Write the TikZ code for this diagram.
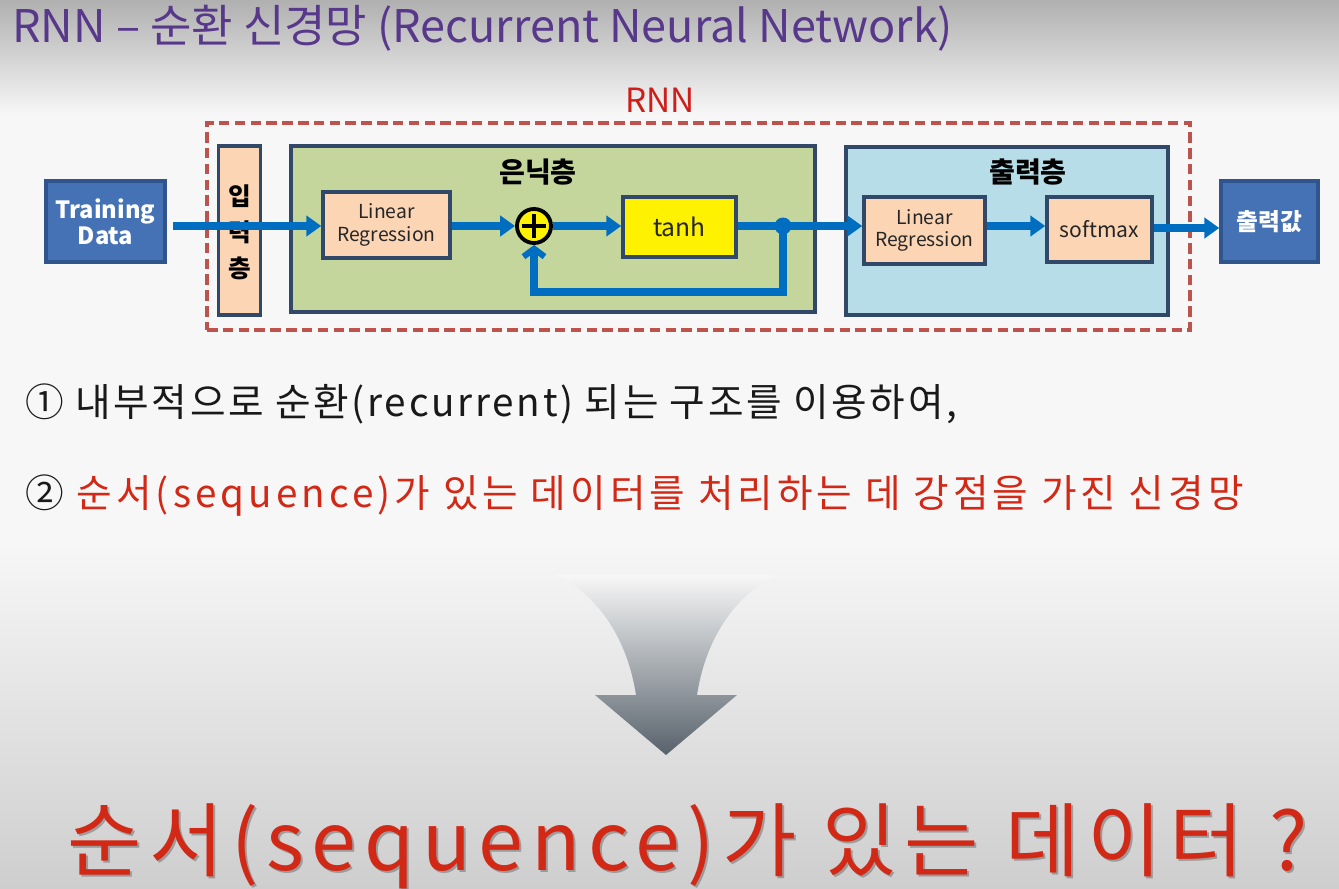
\documentclass[tikz,border=0pt]{standalone}
\usepackage{fontspec}
\setmainfont{Noto Sans CJK KR}
\usetikzlibrary{arrows.meta}

\definecolor{bgw}{RGB}{247,247,247}
\definecolor{bgtop}{RGB}{176,176,176}
\definecolor{bgbot}{RGB}{206,206,206}
\definecolor{titlepurple}{RGB}{88,56,138}
\definecolor{rnnred}{RGB}{205,30,25}
\definecolor{dashred}{RGB}{190,82,76}
\definecolor{boxblue}{RGB}{68,114,180}
\definecolor{boxblueline}{RGB}{48,84,140}
\definecolor{frame}{RGB}{50,72,105}
\definecolor{peach}{RGB}{252,213,181}
\definecolor{olive}{RGB}{196,214,156}
\definecolor{skyblue}{RGB}{183,222,232}
\definecolor{flowblue}{RGB}{0,110,192}
\definecolor{textred}{RGB}{210,40,22}
\definecolor{arrowdark}{RGB}{88,98,108}
\definecolor{arrowmid}{RGB}{176,184,190}

\tikzset{
  sz/.style 2 args={minimum width=#1*0.02cm, minimum height=#2*0.02cm},
  blockbox/.style={draw=boxblueline, line width=2pt, fill=boxblue,
    text=white, font=\bfseries\fontsize{13.5}{15}\selectfont, align=center,
    inner sep=0pt},
  layerbox/.style={draw=frame, line width=2pt, inner sep=0pt},
  unitbox/.style={draw=frame, line width=2pt, fill=peach, inner sep=0pt,
    align=center, text=black!85, font=\fontsize{11}{13}\selectfont},
  flow/.style={draw=flowblue, line width=4pt,
    -{Triangle[length=8.5pt,width=11.5pt]}},
  feedback/.style={draw=flowblue, line width=4pt,
    -{Straight Barb[length=4.5pt,width=12pt,line width=3.5pt]}},
  layertitle/.style={font=\bfseries\fontsize{16}{18}\selectfont, text=black},
  inlabel/.style={font=\bfseries\fontsize{14}{16}\selectfont, inner sep=0pt},
}

\begin{document}
\begin{tikzpicture}[x=0.02cm, y=-0.02cm]
  % page background: grey fade at top and bottom
  \useasboundingbox (0,0) rectangle (1339,889);
  \fill[bgw] (0,0) rectangle (1339,889);
  \shade[top color=bgtop, bottom color=bgw] (0,0) rectangle (1339,115);
  \shade[top color=bgw, bottom color=bgbot] (0,540) rectangle (1339,889);

  % heading
  \node[anchor=base west, text=titlepurple, inner sep=0pt,
        font=\fontsize{25.6}{28}\selectfont] (title) at (12,42)
        {RNN – 순환 신경망 (Recurrent Neural Network)};

  % RNN frame
  \node[draw=dashred, line width=2.2pt, dash pattern=on 6pt off 3pt,
        sz={983}{207}, inner sep=0pt] (rnn) at (698.5,226.5) {};
  \node[anchor=base, text=rnnred, inner sep=0pt,
        font=\fontsize{19}{21}\selectfont] (rnnlabel) at (660,112) {RNN};

  % input and output blocks
  \node[blockbox, sz={119}{81}] (train) at (105.5,221.5) {Training\\Data};
  \node[blockbox, sz={97}{81}] (outval) at (1269.5,221.5) {출력값};

  % input layer
  \node[layerbox, fill=peach, sz={42}{169}] (inlayer) at (239.5,230.5) {};
  \node[inlabel] (in1) at (239.5,196) {입};
  \node[inlabel] (in2) at (239.5,232) {력};
  \node[inlabel] (in3) at (239.5,268) {층};

  % hidden layer
  \node[layerbox, fill=olive, sz={524}{166}] (hidden) at (553,229) {};
  \node[layertitle] (hiddentitle) at (538,172) {은닉층};
  \node[unitbox, sz={127}{66}] (lr1) at (386.5,225) {Linear\\Regression};
  \node[circle, draw=black, line width=2.2pt, fill=yellow, minimum size=34*0.02cm,
        inner sep=0pt] (plus) at (534,226) {};
  \draw[line width=2.4pt] ([yshift=-7pt]plus.center) -- ([yshift=7pt]plus.center)
        ([xshift=-7pt]plus.center) -- ([xshift=7pt]plus.center);
  \node[unitbox, fill=yellow, sz={113}{60}, font=\fontsize{14}{16}\selectfont]
        (tanh) at (679.5,227) {tanh};
  \node[circle, fill=flowblue, minimum size=17*0.02cm, inner sep=0pt] (dot) at (783,226) {};

  % output layer
  \node[layerbox, fill=skyblue, sz={322}{168}] (outlayer) at (1007,231) {};
  \node[layertitle] (outtitle) at (1028,172) {출력층};
  \node[unitbox, sz={121}{67}] (lr2) at (924.5,230.5) {Linear\\Regression};
  \node[unitbox, sz={105}{65}, font=\fontsize{12}{14}\selectfont]
        (softmax) at (1099.5,229.5) {softmax};

  % data flow
  \coordinate (trainout) at (173,226);
  \coordinate (loopdown) at (783,292);
  \draw[flow] (trainout) -- (lr1.west |- trainout);
  \draw[flow] (lr1.east |- plus) -- (plus.west);
  \draw[flow] (plus.east) -- (tanh.west |- plus);
  \draw[flow] (tanh.east |- dot) -- (lr2.west |- dot);
  \draw[flow] (lr2.east |- dot) -- (softmax.west |- dot);
  \draw[flow] (softmax.east |- 0,228) -- (outval.west |- 0,228);
  \draw[feedback] (dot.center) -- (loopdown) -- (plus.south |- loopdown) -- (plus.south);

  % explanatory lines
  \node[anchor=base west, inner sep=0pt, text=black!90,
        font=\fontsize{22}{24}\selectfont\addfontfeature{LetterSpace=7}] (line1) at (25,416)
        {① 내부적으로 순환(recurrent) 되는 구조를 이용하여,};
  \node[anchor=base west, inner sep=0pt, text=black!90,
        font=\fontsize{22}{24}\selectfont\addfontfeature{LetterSpace=10.5}] (line2) at (25,507)
        {② \textcolor{textred}{순서(sequence)가 있는 데이터를 처리하는 데 강점을 가진 신경망}};

  % big downward arrow
  \shade[top color=bgw, middle color=arrowmid, bottom color=arrowdark]
    (556,575) .. controls (590,590) and (626,630) .. (636,695)
    -- (595,695) -- (666,755) -- (737,695) -- (697,695)
    .. controls (707,630) and (743,590) .. (777,575) -- cycle;

  % closing question
  \node[anchor=base west, inner sep=0pt, text=black!60, opacity=0.5,
        font=\fontsize{46}{50}\selectfont\addfontfeature{LetterSpace=9.5}] (qshadow) at (69,872)
        {순서(sequence)가 있는 데이터 ?};
  \node[anchor=base west, inner sep=0pt, text=textred,
        font=\fontsize{46}{50}\selectfont\addfontfeature{LetterSpace=9.5}] (question) at (67,870)
        {순서(sequence)가 있는 데이터 ?};
\end{tikzpicture}
\end{document}
